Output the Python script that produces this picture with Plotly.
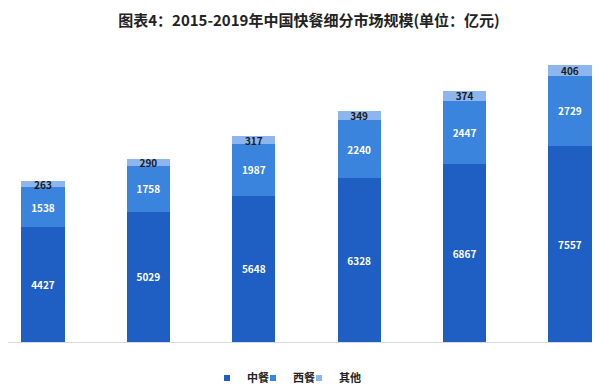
import plotly.graph_objects as go

years = ["2015", "2016", "2017", "2018", "2019", "2019E"]
chinese = [4427, 5029, 5648, 6328, 6867, 7557]
western = [1538, 1758, 1987, 2240, 2447, 2729]
other = [263, 290, 317, 349, 374, 406]
series_names = ["中餐", "西餐", "其他"]

x = list(range(len(years)))
font = "Noto Sans CJK SC"

# page body has an 8px margin, so the figure is 8px smaller and offset
W, H = 592, 384

fig = go.Figure()
colors = ["#1F5FC3", "#3B84DE", "#8DB6EE"]
textcolors = ["white", "white", "#1a1a1a"]
for name, vals, c, tc in zip(series_names, [chinese, western, other], colors, textcolors):
    fig.add_trace(go.Bar(
        x=x, y=vals, name=name, marker=dict(color=c, line=dict(width=0)),
        width=0.41, texttemplate="<b>%{y}</b>", textposition="inside",
        insidetextanchor="middle",
        textfont=dict(color=tc, size=10, family=font),
        hoverinfo="skip", showlegend=False,
    ))
# compact legend entries (small square markers), no visible data
for name, c in zip(series_names, colors):
    fig.add_trace(go.Scatter(
        x=[x[0]], y=[None], mode="markers", name="<b>" + name + "</b>",
        marker=dict(symbol="square", size=6, color=c, line=dict(width=0)),
        showlegend=True, hoverinfo="skip",
    ))
# empty spacer entry so the last legend label is not clipped
fig.add_trace(go.Scatter(
    x=[x[0]], y=[None], mode="markers", name=" ",
    marker=dict(symbol="square", size=6, color="rgba(0,0,0,0)", line=dict(width=0)),
    showlegend=True, hoverinfo="skip",
))

fig.update_layout(
    barmode="stack",
    width=W, height=H,
    margin=dict(l=0, r=0, t=0, b=0, autoexpand=False),
    paper_bgcolor="white", plot_bgcolor="white",
    title=dict(text="<b>图表4：2015-2019年中国快餐细分市场规模(单位：亿元)</b>",
               x=301 / W, xanchor="center", y=1 - 13 / H, yanchor="middle",
               font=dict(family=font, size=15, color="#222222")),
    uniformtext=dict(minsize=10, mode="show"),
    legend=dict(orientation="h", yanchor="middle", xanchor="left", x=199 / W,
                y=(H - 370) / H, font=dict(family=font, size=11, color="#222222"),
                itemwidth=30, entrywidth=1, traceorder="normal",
                bgcolor="rgba(0,0,0,0)", borderwidth=0),
    showlegend=True,
)
fig.update_xaxes(range=[-0.332, 5.285], showticklabels=False, showgrid=False,
                 zeroline=False, showline=True, linecolor="#d9d9d9", linewidth=1, ticks="")
fig.update_yaxes(range=[0, 11271], domain=[(H - 334) / H, (H - 42) / H], showticklabels=False,
                 showgrid=False, zeroline=False, showline=False)

fig.write_html("out.html")
